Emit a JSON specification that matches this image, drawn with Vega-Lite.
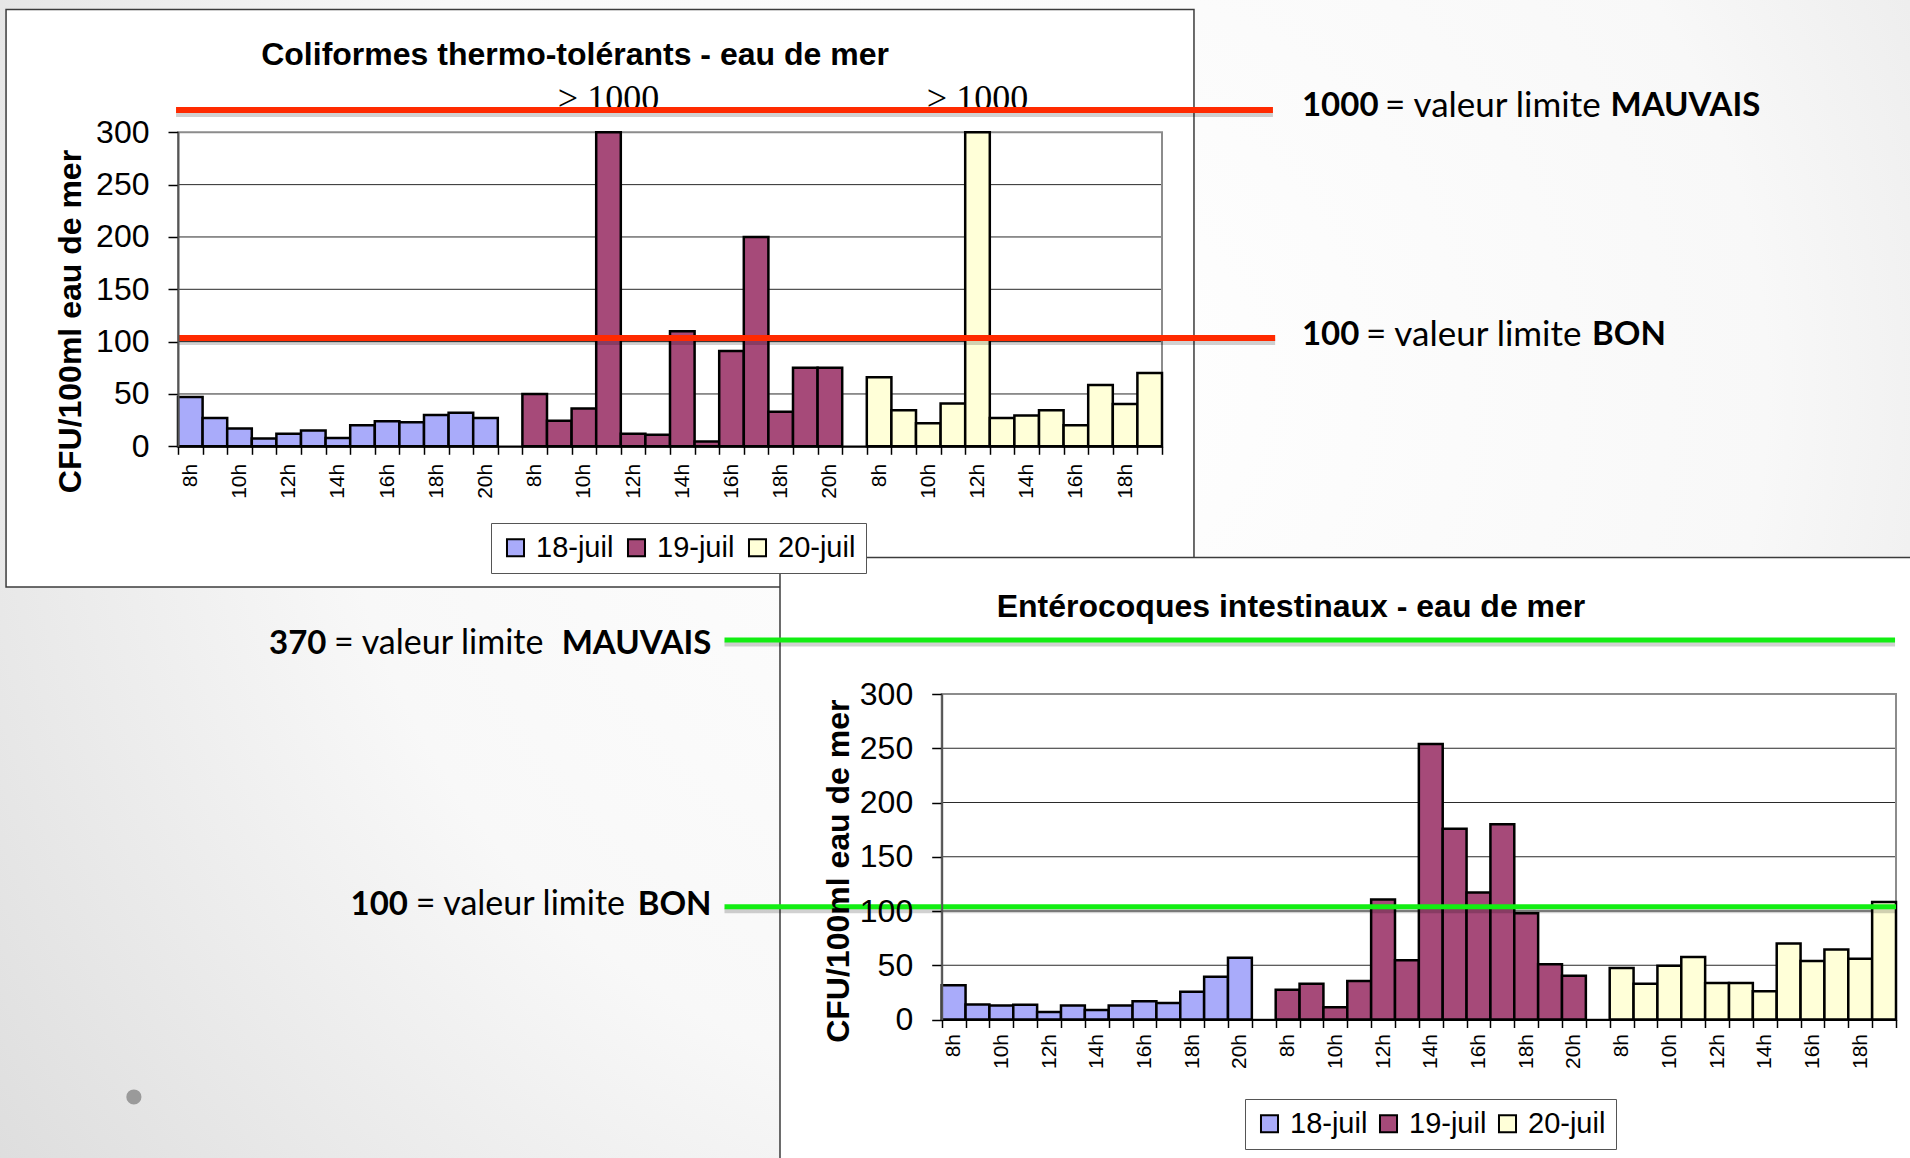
{
  "$schema": "https://vega.github.io/schema/vega-lite/v6.json",
  "width": 1910,
  "height": 1158,
  "autosize": {"type": "none"},
  "padding": 0,
  "background": "#ffffff",
  "config": {
    "font": "Liberation Sans",
    "view": {"stroke": null},
    "axis": {"grid": false, "labelColor": "#000", "titleColor": "#000", "tickColor": "#000", "domainColor": "#000", "labelFont": "Liberation Sans", "titleFont": "Liberation Sans"}
  },
  "datasets": {
    "barres": [
      {"graphique": "coli", "jour": "18-juil", "cle": "18-juil 8h", "cfu": 47},
      {"graphique": "coli", "jour": "18-juil", "cle": "18-juil 9h", "cfu": 27},
      {"graphique": "coli", "jour": "18-juil", "cle": "18-juil 10h", "cfu": 17},
      {"graphique": "coli", "jour": "18-juil", "cle": "18-juil 11h", "cfu": 7.5},
      {"graphique": "coli", "jour": "18-juil", "cle": "18-juil 12h", "cfu": 12},
      {"graphique": "coli", "jour": "18-juil", "cle": "18-juil 13h", "cfu": 15},
      {"graphique": "coli", "jour": "18-juil", "cle": "18-juil 14h", "cfu": 8},
      {"graphique": "coli", "jour": "18-juil", "cle": "18-juil 15h", "cfu": 20},
      {"graphique": "coli", "jour": "18-juil", "cle": "18-juil 16h", "cfu": 24},
      {"graphique": "coli", "jour": "18-juil", "cle": "18-juil 17h", "cfu": 23},
      {"graphique": "coli", "jour": "18-juil", "cle": "18-juil 18h", "cfu": 30},
      {"graphique": "coli", "jour": "18-juil", "cle": "18-juil 19h", "cfu": 32},
      {"graphique": "coli", "jour": "18-juil", "cle": "18-juil 20h", "cfu": 27},
      {"graphique": "coli", "jour": "19-juil", "cle": "19-juil 8h", "cfu": 50},
      {"graphique": "coli", "jour": "19-juil", "cle": "19-juil 9h", "cfu": 24.5},
      {"graphique": "coli", "jour": "19-juil", "cle": "19-juil 10h", "cfu": 36},
      {"graphique": "coli", "jour": "19-juil", "cle": "19-juil 11h", "cfu": 1000, "etiquette": "> 1000"},
      {"graphique": "coli", "jour": "19-juil", "cle": "19-juil 12h", "cfu": 12},
      {"graphique": "coli", "jour": "19-juil", "cle": "19-juil 13h", "cfu": 11},
      {"graphique": "coli", "jour": "19-juil", "cle": "19-juil 14h", "cfu": 110},
      {"graphique": "coli", "jour": "19-juil", "cle": "19-juil 15h", "cfu": 4.5},
      {"graphique": "coli", "jour": "19-juil", "cle": "19-juil 16h", "cfu": 91},
      {"graphique": "coli", "jour": "19-juil", "cle": "19-juil 17h", "cfu": 200},
      {"graphique": "coli", "jour": "19-juil", "cle": "19-juil 18h", "cfu": 33},
      {"graphique": "coli", "jour": "19-juil", "cle": "19-juil 19h", "cfu": 75},
      {"graphique": "coli", "jour": "19-juil", "cle": "19-juil 20h", "cfu": 75},
      {"graphique": "coli", "jour": "20-juil", "cle": "20-juil 8h", "cfu": 66},
      {"graphique": "coli", "jour": "20-juil", "cle": "20-juil 9h", "cfu": 34.5},
      {"graphique": "coli", "jour": "20-juil", "cle": "20-juil 10h", "cfu": 22},
      {"graphique": "coli", "jour": "20-juil", "cle": "20-juil 11h", "cfu": 41},
      {"graphique": "coli", "jour": "20-juil", "cle": "20-juil 12h", "cfu": 1000, "etiquette": "> 1000"},
      {"graphique": "coli", "jour": "20-juil", "cle": "20-juil 13h", "cfu": 27},
      {"graphique": "coli", "jour": "20-juil", "cle": "20-juil 14h", "cfu": 29.5},
      {"graphique": "coli", "jour": "20-juil", "cle": "20-juil 15h", "cfu": 34.5},
      {"graphique": "coli", "jour": "20-juil", "cle": "20-juil 16h", "cfu": 20},
      {"graphique": "coli", "jour": "20-juil", "cle": "20-juil 17h", "cfu": 58.5},
      {"graphique": "coli", "jour": "20-juil", "cle": "20-juil 18h", "cfu": 40.5},
      {"graphique": "coli", "jour": "20-juil", "cle": "20-juil 19h", "cfu": 70},
      {"graphique": "ente", "jour": "18-juil", "cle": "18-juil 8h", "cfu": 31.5},
      {"graphique": "ente", "jour": "18-juil", "cle": "18-juil 9h", "cfu": 13.8},
      {"graphique": "ente", "jour": "18-juil", "cle": "18-juil 10h", "cfu": 13},
      {"graphique": "ente", "jour": "18-juil", "cle": "18-juil 11h", "cfu": 13.5},
      {"graphique": "ente", "jour": "18-juil", "cle": "18-juil 12h", "cfu": 7},
      {"graphique": "ente", "jour": "18-juil", "cle": "18-juil 13h", "cfu": 13},
      {"graphique": "ente", "jour": "18-juil", "cle": "18-juil 14h", "cfu": 8.8},
      {"graphique": "ente", "jour": "18-juil", "cle": "18-juil 15h", "cfu": 13},
      {"graphique": "ente", "jour": "18-juil", "cle": "18-juil 16h", "cfu": 16.8},
      {"graphique": "ente", "jour": "18-juil", "cle": "18-juil 17h", "cfu": 15.2},
      {"graphique": "ente", "jour": "18-juil", "cle": "18-juil 18h", "cfu": 25.6},
      {"graphique": "ente", "jour": "18-juil", "cle": "18-juil 19h", "cfu": 39.5},
      {"graphique": "ente", "jour": "18-juil", "cle": "18-juil 20h", "cfu": 57},
      {"graphique": "ente", "jour": "19-juil", "cle": "19-juil 8h", "cfu": 27.4},
      {"graphique": "ente", "jour": "19-juil", "cle": "19-juil 9h", "cfu": 33},
      {"graphique": "ente", "jour": "19-juil", "cle": "19-juil 10h", "cfu": 11.2},
      {"graphique": "ente", "jour": "19-juil", "cle": "19-juil 11h", "cfu": 35.4},
      {"graphique": "ente", "jour": "19-juil", "cle": "19-juil 12h", "cfu": 110.5},
      {"graphique": "ente", "jour": "19-juil", "cle": "19-juil 13h", "cfu": 54.7},
      {"graphique": "ente", "jour": "19-juil", "cle": "19-juil 14h", "cfu": 254},
      {"graphique": "ente", "jour": "19-juil", "cle": "19-juil 15h", "cfu": 175.8},
      {"graphique": "ente", "jour": "19-juil", "cle": "19-juil 16h", "cfu": 117},
      {"graphique": "ente", "jour": "19-juil", "cle": "19-juil 17h", "cfu": 180},
      {"graphique": "ente", "jour": "19-juil", "cle": "19-juil 18h", "cfu": 98},
      {"graphique": "ente", "jour": "19-juil", "cle": "19-juil 19h", "cfu": 51},
      {"graphique": "ente", "jour": "19-juil", "cle": "19-juil 20h", "cfu": 40.4},
      {"graphique": "ente", "jour": "20-juil", "cle": "20-juil 8h", "cfu": 47.4},
      {"graphique": "ente", "jour": "20-juil", "cle": "20-juil 9h", "cfu": 33},
      {"graphique": "ente", "jour": "20-juil", "cle": "20-juil 10h", "cfu": 49.5},
      {"graphique": "ente", "jour": "20-juil", "cle": "20-juil 11h", "cfu": 57.5},
      {"graphique": "ente", "jour": "20-juil", "cle": "20-juil 12h", "cfu": 33.7},
      {"graphique": "ente", "jour": "20-juil", "cle": "20-juil 13h", "cfu": 33.7},
      {"graphique": "ente", "jour": "20-juil", "cle": "20-juil 14h", "cfu": 26},
      {"graphique": "ente", "jour": "20-juil", "cle": "20-juil 15h", "cfu": 70},
      {"graphique": "ente", "jour": "20-juil", "cle": "20-juil 16h", "cfu": 54},
      {"graphique": "ente", "jour": "20-juil", "cle": "20-juil 17h", "cfu": 64.6},
      {"graphique": "ente", "jour": "20-juil", "cle": "20-juil 18h", "cfu": 56},
      {"graphique": "ente", "jour": "20-juil", "cle": "20-juil 19h", "cfu": 108.4}
    ]
  },
  "layer": [
    {
      "data": {"values": [{}]},
      "mark": {"type": "rect", "fill": {"gradient": "radial", "x1": 0.55, "y1": 0.4, "r1": 0, "x2": 0.55, "y2": 0.4, "r2": 0.75, "stops": [{"offset": 0, "color": "#ffffff"}, {"offset": 0.5, "color": "#f8f8f8"}, {"offset": 1, "color": "#d8d8d8"}]}},
      "encoding": {
        "x": {"datum": 0, "type": "quantitative", "scale": {"domain": [0, 1]}, "axis": null},
        "x2": {"datum": 1},
        "y": {"datum": 0, "type": "quantitative", "scale": {"domain": [0, 1]}, "axis": null},
        "y2": {"datum": 1}
      }
    },
    {
      "layer": [
        {
          "data": {"values": [{}]},
          "mark": {"type": "rect", "fill": "#ffffff", "stroke": "#3c3c3c", "strokeWidth": 1.5},
          "encoding": {
            "x": {"datum": -6.99, "type": "quantitative", "scale": {"domain": [0, 40], "range": [178, 1162]}, "axis": null},
            "x2": {"datum": 41.3},
            "y": {"datum": 417.3, "type": "quantitative", "scale": {"domain": [0, 300], "range": [446.3, 132.3], "nice": false, "zero": false}, "axis": null},
            "y2": {"datum": -134.4}
          }
        },
        {
          "data": {"values": [{}]},
          "mark": {"type": "text", "text": "Coliformes thermo-tolérants - eau de mer", "font": "Liberation Sans", "fontSize": 32, "fontWeight": "bold", "align": "center", "baseline": "middle", "color": "#000"},
          "encoding": {
            "x": {"datum": 16.14, "type": "quantitative", "scale": {"domain": [0, 40], "range": [178, 1162]}, "axis": null},
            "y": {"datum": 373.9, "type": "quantitative", "scale": {"domain": [0, 300], "range": [446.3, 132.3], "nice": false, "zero": false}, "axis": null}
          }
        },
        {
          "data": {"values": [{"grille": 50}, {"grille": 100}, {"grille": 150}, {"grille": 200}, {"grille": 250}]},
          "mark": {"type": "rule", "color": "#2a2a2a", "strokeWidth": 1},
          "encoding": {
            "x": {"datum": 0, "type": "quantitative", "scale": {"domain": [0, 40], "range": [178, 1162]}, "axis": null},
            "x2": {"datum": 40},
            "y": {"field": "grille", "type": "quantitative", "scale": {"domain": [0, 300], "range": [446.3, 132.3], "nice": false, "zero": false}, "axis": null}
          }
        },
        {
          "data": {"values": [{}]},
          "mark": {"type": "rect", "filled": false, "stroke": "#8c8c8c", "strokeWidth": 2},
          "encoding": {
            "x": {"datum": 0, "type": "quantitative", "scale": {"domain": [0, 40], "range": [178, 1162]}, "axis": null},
            "x2": {"datum": 40},
            "y": {"datum": 0, "type": "quantitative", "scale": {"domain": [0, 300], "range": [446.3, 132.3], "nice": false, "zero": false}, "axis": null},
            "y2": {"datum": 300}
          }
        }
      ]
    },
    {
      "data": {"name": "barres"},
      "transform": [{"filter": "datum.graphique === 'coli'"}],
      "layer": [
        {
          "mark": {"type": "bar", "stroke": "#000", "strokeWidth": 2.5},
          "encoding": {
            "x": {
              "field": "cle", "type": "nominal",
              "scale": {"type": "band", "domain": ["18-juil 8h", "18-juil 9h", "18-juil 10h", "18-juil 11h", "18-juil 12h", "18-juil 13h", "18-juil 14h", "18-juil 15h", "18-juil 16h", "18-juil 17h", "18-juil 18h", "18-juil 19h", "18-juil 20h", "(vide 1)", "19-juil 8h", "19-juil 9h", "19-juil 10h", "19-juil 11h", "19-juil 12h", "19-juil 13h", "19-juil 14h", "19-juil 15h", "19-juil 16h", "19-juil 17h", "19-juil 18h", "19-juil 19h", "19-juil 20h", "(vide 2)", "20-juil 8h", "20-juil 9h", "20-juil 10h", "20-juil 11h", "20-juil 12h", "20-juil 13h", "20-juil 14h", "20-juil 15h", "20-juil 16h", "20-juil 17h", "20-juil 18h", "20-juil 19h"], "range": [178, 1162], "paddingInner": 0, "paddingOuter": 0},
              "axis": {"orient": "bottom", "offset": -711.7, "zindex": 1, "tickBand": "extent", "tickSize": 8, "tickWidth": 1.5, "domainWidth": 2, "labelAngle": 270, "labelFontSize": 21, "labelPadding": 9, "labelOverlap": false, "title": null,
                "labelExpr": "indexof(['8h','10h','12h','14h','16h','18h','20h'], split(datum.value, ' ')[1]) >= 0 ? split(datum.value, ' ')[1] : ''"}
            },
            "y": {
              "field": "cfu", "type": "quantitative",
              "scale": {"domain": [0, 300], "range": [446.3, 132.3], "clamp": true, "nice": false},
              "axis": {"orient": "left", "offset": -178, "zindex": 1, "values": [0, 50, 100, 150, 200, 250, 300], "tickSize": 10, "tickWidth": 1.5, "domainWidth": 2, "domainColor": "#555", "labelFontSize": 32, "labelPadding": 19, "labelFlush": false, "labelOverlap": false,
                "title": "CFU/100ml eau de mer", "titleFontSize": 32, "titleFontWeight": "bold", "titleAngle": 270, "titleX": -108, "titleY": 321, "titleAlign": "center", "titleBaseline": "middle"}
            },
            "color": {
              "field": "jour", "type": "nominal",
              "scale": {"domain": ["18-juil", "19-juil", "20-juil"], "range": ["#a9abfa", "#a64a79", "#ffffd8"]},
              "legend": {"title": null, "orient": "none", "legendX": 491, "legendY": 523, "direction": "horizontal", "symbolType": "square", "symbolSize": 290, "symbolStrokeColor": "#000", "symbolStrokeWidth": 2, "symbolOpacity": 1, "labelFontSize": 29, "labelFont": "Liberation Sans", "labelColor": "#000", "labelOffset": 6, "columnPadding": 8, "padding": 10, "strokeColor": "#555", "fillColor": "#ffffff"}
            }
          }
        },
        {
          "transform": [{"filter": "datum.etiquette"}],
          "mark": {"type": "text", "font": "Liberation Serif", "fontSize": 36, "baseline": "alphabetic", "align": "center", "dy": -22, "color": "#000"},
          "encoding": {
            "x": {"field": "cle", "type": "nominal"},
            "y": {"field": "cfu", "type": "quantitative"},
            "text": {"field": "etiquette"}
          }
        }
      ]
    },
    {
      "layer": [
        {
          "data": {"values": [{}]},
          "mark": {"type": "rule", "color": "#000", "opacity": 0.18, "strokeWidth": 6, "yOffset": 4},
          "encoding": {
            "x": {"datum": -0.08, "type": "quantitative", "scale": {"domain": [0, 40], "range": [178, 1162]}, "axis": null},
            "x2": {"datum": 44.51},
            "y": {"datum": 321.3, "type": "quantitative", "scale": {"domain": [0, 300], "range": [446.3, 132.3], "nice": false, "zero": false}, "axis": null}
          }
        },
        {
          "data": {"values": [{}]},
          "mark": {"type": "rule", "color": "#000", "opacity": 0.18, "strokeWidth": 6, "yOffset": 4},
          "encoding": {
            "x": {"datum": 0.04, "type": "quantitative", "scale": {"domain": [0, 40], "range": [178, 1162]}, "axis": null},
            "x2": {"datum": 44.6},
            "y": {"datum": 103.5, "type": "quantitative", "scale": {"domain": [0, 300], "range": [446.3, 132.3], "nice": false, "zero": false}, "axis": null}
          }
        },
        {
          "data": {"values": [{}]},
          "mark": {"type": "rule", "color": "#ff2a00", "strokeWidth": 6},
          "encoding": {
            "x": {"datum": -0.08, "type": "quantitative", "scale": {"domain": [0, 40], "range": [178, 1162]}, "axis": null},
            "x2": {"datum": 44.51},
            "y": {"datum": 321.3, "type": "quantitative", "scale": {"domain": [0, 300], "range": [446.3, 132.3], "nice": false, "zero": false}, "axis": null}
          }
        },
        {
          "data": {"values": [{}]},
          "mark": {"type": "rule", "color": "#ff2a00", "strokeWidth": 6},
          "encoding": {
            "x": {"datum": 0.04, "type": "quantitative", "scale": {"domain": [0, 40], "range": [178, 1162]}, "axis": null},
            "x2": {"datum": 44.6},
            "y": {"datum": 103.5, "type": "quantitative", "scale": {"domain": [0, 300], "range": [446.3, 132.3], "nice": false, "zero": false}, "axis": null}
          }
        },
        {
          "data": {"values": [{}]},
          "mark": {"type": "text", "text": "1000", "font": "Lato", "fontSize": 33, "fontWeight": "bold", "align": "left", "baseline": "middle", "color": "#000"},
          "encoding": {
            "x": {"datum": 45.69, "type": "quantitative", "scale": {"domain": [0, 40], "range": [178, 1162]}, "axis": null},
            "y": {"datum": 325.1, "type": "quantitative", "scale": {"domain": [0, 300], "range": [446.3, 132.3], "nice": false, "zero": false}, "axis": null}
          }
        },
        {
          "data": {"values": [{}]},
          "mark": {"type": "text", "text": "= valeur limite", "font": "Lato", "fontSize": 35, "align": "left", "baseline": "middle", "color": "#000"},
          "encoding": {
            "x": {"datum": 49.07, "type": "quantitative", "scale": {"domain": [0, 40], "range": [178, 1162]}, "axis": null},
            "y": {"datum": 325.1, "type": "quantitative", "scale": {"domain": [0, 300], "range": [446.3, 132.3], "nice": false, "zero": false}, "axis": null}
          }
        },
        {
          "data": {"values": [{}]},
          "mark": {"type": "text", "text": "MAUVAIS", "font": "Lato", "fontSize": 33, "fontWeight": "bold", "align": "left", "baseline": "middle", "color": "#000"},
          "encoding": {
            "x": {"datum": 58.23, "type": "quantitative", "scale": {"domain": [0, 40], "range": [178, 1162]}, "axis": null},
            "y": {"datum": 325.1, "type": "quantitative", "scale": {"domain": [0, 300], "range": [446.3, 132.3], "nice": false, "zero": false}, "axis": null}
          }
        },
        {
          "data": {"values": [{}]},
          "mark": {"type": "text", "text": "100", "font": "Lato", "fontSize": 33, "fontWeight": "bold", "align": "left", "baseline": "middle", "color": "#000"},
          "encoding": {
            "x": {"datum": 45.69, "type": "quantitative", "scale": {"domain": [0, 40], "range": [178, 1162]}, "axis": null},
            "y": {"datum": 106.3, "type": "quantitative", "scale": {"domain": [0, 300], "range": [446.3, 132.3], "nice": false, "zero": false}, "axis": null}
          }
        },
        {
          "data": {"values": [{}]},
          "mark": {"type": "text", "text": "= valeur limite", "font": "Lato", "fontSize": 35, "align": "left", "baseline": "middle", "color": "#000"},
          "encoding": {
            "x": {"datum": 48.29, "type": "quantitative", "scale": {"domain": [0, 40], "range": [178, 1162]}, "axis": null},
            "y": {"datum": 106.3, "type": "quantitative", "scale": {"domain": [0, 300], "range": [446.3, 132.3], "nice": false, "zero": false}, "axis": null}
          }
        },
        {
          "data": {"values": [{}]},
          "mark": {"type": "text", "text": "BON", "font": "Lato", "fontSize": 33, "fontWeight": "bold", "align": "left", "baseline": "middle", "color": "#000"},
          "encoding": {
            "x": {"datum": 57.48, "type": "quantitative", "scale": {"domain": [0, 40], "range": [178, 1162]}, "axis": null},
            "y": {"datum": 106.3, "type": "quantitative", "scale": {"domain": [0, 300], "range": [446.3, 132.3], "nice": false, "zero": false}, "axis": null}
          }
        }
      ]
    },
    {
      "layer": [
        {
          "data": {"values": [{}]},
          "mark": {"type": "rect", "fill": "#ffffff", "stroke": "#3c3c3c", "strokeWidth": 1.5},
          "encoding": {
            "x": {"datum": -6.778, "type": "quantitative", "scale": {"domain": [0, 40], "range": [941.7, 1896]}, "axis": null},
            "x2": {"datum": 41.22},
            "y": {"datum": 425.8, "type": "quantitative", "scale": {"domain": [0, 300], "range": [1019.5, 694], "nice": false, "zero": false}, "axis": null},
            "y2": {"datum": -138.7}
          }
        },
        {
          "data": {"values": [{}]},
          "mark": {"type": "text", "text": "Entérocoques intestinaux - eau de mer", "font": "Liberation Sans", "fontSize": 32, "fontWeight": "bold", "align": "center", "baseline": "middle", "color": "#000"},
          "encoding": {
            "x": {"datum": 14.64, "type": "quantitative", "scale": {"domain": [0, 40], "range": [941.7, 1896]}, "axis": null},
            "y": {"datum": 380.2, "type": "quantitative", "scale": {"domain": [0, 300], "range": [1019.5, 694], "nice": false, "zero": false}, "axis": null}
          }
        },
        {
          "data": {"values": [{"grille": 50}, {"grille": 100}, {"grille": 150}, {"grille": 200}, {"grille": 250}]},
          "mark": {"type": "rule", "color": "#2a2a2a", "strokeWidth": 1},
          "encoding": {
            "x": {"datum": 0, "type": "quantitative", "scale": {"domain": [0, 40], "range": [941.7, 1896]}, "axis": null},
            "x2": {"datum": 40},
            "y": {"field": "grille", "type": "quantitative", "scale": {"domain": [0, 300], "range": [1019.5, 694], "nice": false, "zero": false}, "axis": null}
          }
        },
        {
          "data": {"values": [{}]},
          "mark": {"type": "rect", "filled": false, "stroke": "#8c8c8c", "strokeWidth": 2},
          "encoding": {
            "x": {"datum": 0, "type": "quantitative", "scale": {"domain": [0, 40], "range": [941.7, 1896]}, "axis": null},
            "x2": {"datum": 40},
            "y": {"datum": 0, "type": "quantitative", "scale": {"domain": [0, 300], "range": [1019.5, 694], "nice": false, "zero": false}, "axis": null},
            "y2": {"datum": 300}
          }
        },
        {
          "data": {"values": [{}]},
          "mark": {"type": "circle", "color": "#9a9a9a", "opacity": 1, "size": 230},
          "encoding": {
            "x": {"datum": -33.86, "type": "quantitative", "scale": {"domain": [0, 40], "range": [941.7, 1896]}, "axis": null},
            "y": {"datum": -71.4, "type": "quantitative", "scale": {"domain": [0, 300], "range": [1019.5, 694], "nice": false, "zero": false}, "axis": null}
          }
        }
      ]
    },
    {
      "data": {"name": "barres"},
      "transform": [{"filter": "datum.graphique === 'ente'"}],
      "mark": {"type": "bar", "stroke": "#000", "strokeWidth": 2.5},
      "encoding": {
        "x": {
          "field": "cle", "type": "nominal",
          "scale": {"type": "band", "domain": ["18-juil 8h", "18-juil 9h", "18-juil 10h", "18-juil 11h", "18-juil 12h", "18-juil 13h", "18-juil 14h", "18-juil 15h", "18-juil 16h", "18-juil 17h", "18-juil 18h", "18-juil 19h", "18-juil 20h", "(vide 1)", "19-juil 8h", "19-juil 9h", "19-juil 10h", "19-juil 11h", "19-juil 12h", "19-juil 13h", "19-juil 14h", "19-juil 15h", "19-juil 16h", "19-juil 17h", "19-juil 18h", "19-juil 19h", "19-juil 20h", "(vide 2)", "20-juil 8h", "20-juil 9h", "20-juil 10h", "20-juil 11h", "20-juil 12h", "20-juil 13h", "20-juil 14h", "20-juil 15h", "20-juil 16h", "20-juil 17h", "20-juil 18h", "20-juil 19h"], "range": [941.7, 1896], "paddingInner": 0, "paddingOuter": 0},
          "axis": {"orient": "bottom", "offset": -138.5, "zindex": 1, "tickBand": "extent", "tickSize": 8, "tickWidth": 1.5, "domainWidth": 2, "labelAngle": 270, "labelFontSize": 21, "labelPadding": 6, "labelOverlap": false, "title": null,
            "labelExpr": "indexof(['8h','10h','12h','14h','16h','18h','20h'], split(datum.value, ' ')[1]) >= 0 ? split(datum.value, ' ')[1] : ''"}
        },
        "y": {
          "field": "cfu", "type": "quantitative",
          "scale": {"domain": [0, 300], "range": [1019.5, 694], "clamp": true, "nice": false},
          "axis": {"orient": "left", "offset": -941.7, "zindex": 1, "values": [0, 50, 100, 150, 200, 250, 300], "tickSize": 10, "tickWidth": 1.5, "domainWidth": 2, "domainColor": "#555", "labelFontSize": 32, "labelPadding": 19, "labelFlush": false, "labelOverlap": false,
            "title": "CFU/100ml eau de mer", "titleFontSize": 32, "titleFontWeight": "bold", "titleAngle": 270, "titleX": -103.7, "titleY": 870.7, "titleAlign": "center", "titleBaseline": "middle"}
        },
        "color": {
          "field": "jour", "type": "nominal",
          "scale": {"domain": ["18-juil", "19-juil", "20-juil"], "range": ["#a9abfa", "#a64a79", "#ffffd8"]},
          "legend": {"title": null, "orient": "none", "legendX": 1245, "legendY": 1099, "direction": "horizontal", "symbolType": "square", "symbolSize": 290, "symbolStrokeColor": "#000", "symbolStrokeWidth": 2, "symbolOpacity": 1, "labelFontSize": 29, "labelFont": "Liberation Sans", "labelColor": "#000", "labelOffset": 6, "columnPadding": 6, "padding": 10, "strokeColor": "#555", "fillColor": "#ffffff"}
        }
      }
    },
    {
      "layer": [
        {
          "data": {"values": [{}]},
          "mark": {"type": "rule", "color": "#000", "opacity": 0.18, "strokeWidth": 5, "yOffset": 4},
          "encoding": {
            "x": {"datum": -9.104, "type": "quantitative", "scale": {"domain": [0, 40], "range": [941.7, 1896]}, "axis": null},
            "x2": {"datum": 39.96},
            "y": {"datum": 349.8, "type": "quantitative", "scale": {"domain": [0, 300], "range": [1019.5, 694], "nice": false, "zero": false}, "axis": null}
          }
        },
        {
          "data": {"values": [{}]},
          "mark": {"type": "rule", "color": "#000", "opacity": 0.18, "strokeWidth": 5, "yOffset": 4},
          "encoding": {
            "x": {"datum": -9.104, "type": "quantitative", "scale": {"domain": [0, 40], "range": [941.7, 1896]}, "axis": null},
            "x2": {"datum": 40},
            "y": {"datum": 104.0, "type": "quantitative", "scale": {"domain": [0, 300], "range": [1019.5, 694], "nice": false, "zero": false}, "axis": null}
          }
        },
        {
          "data": {"values": [{}]},
          "mark": {"type": "rule", "color": "#12ee12", "strokeWidth": 5},
          "encoding": {
            "x": {"datum": -9.104, "type": "quantitative", "scale": {"domain": [0, 40], "range": [941.7, 1896]}, "axis": null},
            "x2": {"datum": 39.96},
            "y": {"datum": 349.8, "type": "quantitative", "scale": {"domain": [0, 300], "range": [1019.5, 694], "nice": false, "zero": false}, "axis": null}
          }
        },
        {
          "data": {"values": [{}]},
          "mark": {"type": "rule", "color": "#12ee12", "strokeWidth": 5},
          "encoding": {
            "x": {"datum": -9.104, "type": "quantitative", "scale": {"domain": [0, 40], "range": [941.7, 1896]}, "axis": null},
            "x2": {"datum": 40},
            "y": {"datum": 104.0, "type": "quantitative", "scale": {"domain": [0, 300], "range": [1019.5, 694], "nice": false, "zero": false}, "axis": null}
          }
        },
        {
          "data": {"values": [{}]},
          "mark": {"type": "text", "text": "370", "font": "Lato", "fontSize": 33, "fontWeight": "bold", "align": "right", "baseline": "middle", "color": "#000"},
          "encoding": {
            "x": {"datum": -25.79, "type": "quantitative", "scale": {"domain": [0, 40], "range": [941.7, 1896]}, "axis": null},
            "y": {"datum": 346.5, "type": "quantitative", "scale": {"domain": [0, 300], "range": [1019.5, 694], "nice": false, "zero": false}, "axis": null}
          }
        },
        {
          "data": {"values": [{}]},
          "mark": {"type": "text", "text": "= valeur limite", "font": "Lato", "fontSize": 34, "align": "left", "baseline": "middle", "color": "#000"},
          "encoding": {
            "x": {"datum": -25.47, "type": "quantitative", "scale": {"domain": [0, 40], "range": [941.7, 1896]}, "axis": null},
            "y": {"datum": 346.5, "type": "quantitative", "scale": {"domain": [0, 300], "range": [1019.5, 694], "nice": false, "zero": false}, "axis": null}
          }
        },
        {
          "data": {"values": [{}]},
          "mark": {"type": "text", "text": "MAUVAIS", "font": "Lato", "fontSize": 33, "fontWeight": "bold", "align": "right", "baseline": "middle", "color": "#000"},
          "encoding": {
            "x": {"datum": -9.65, "type": "quantitative", "scale": {"domain": [0, 40], "range": [941.7, 1896]}, "axis": null},
            "y": {"datum": 346.5, "type": "quantitative", "scale": {"domain": [0, 300], "range": [1019.5, 694], "nice": false, "zero": false}, "axis": null}
          }
        },
        {
          "data": {"values": [{}]},
          "mark": {"type": "text", "text": "100", "font": "Lato", "fontSize": 33, "fontWeight": "bold", "align": "right", "baseline": "middle", "color": "#000"},
          "encoding": {
            "x": {"datum": -22.37, "type": "quantitative", "scale": {"domain": [0, 40], "range": [941.7, 1896]}, "axis": null},
            "y": {"datum": 105.5, "type": "quantitative", "scale": {"domain": [0, 300], "range": [1019.5, 694], "nice": false, "zero": false}, "axis": null}
          }
        },
        {
          "data": {"values": [{}]},
          "mark": {"type": "text", "text": "= valeur limite", "font": "Lato", "fontSize": 34, "align": "left", "baseline": "middle", "color": "#000"},
          "encoding": {
            "x": {"datum": -22.05, "type": "quantitative", "scale": {"domain": [0, 40], "range": [941.7, 1896]}, "axis": null},
            "y": {"datum": 105.5, "type": "quantitative", "scale": {"domain": [0, 300], "range": [1019.5, 694], "nice": false, "zero": false}, "axis": null}
          }
        },
        {
          "data": {"values": [{}]},
          "mark": {"type": "text", "text": "BON", "font": "Lato", "fontSize": 33, "fontWeight": "bold", "align": "right", "baseline": "middle", "color": "#000"},
          "encoding": {
            "x": {"datum": -9.65, "type": "quantitative", "scale": {"domain": [0, 40], "range": [941.7, 1896]}, "axis": null},
            "y": {"datum": 105.5, "type": "quantitative", "scale": {"domain": [0, 300], "range": [1019.5, 694], "nice": false, "zero": false}, "axis": null}
          }
        }
      ]
    }
  ],
  "resolve": {
    "scale": {"x": "independent", "y": "independent", "color": "independent"},
    "axis": {"x": "independent", "y": "independent"},
    "legend": {"color": "independent"}
  }
}
